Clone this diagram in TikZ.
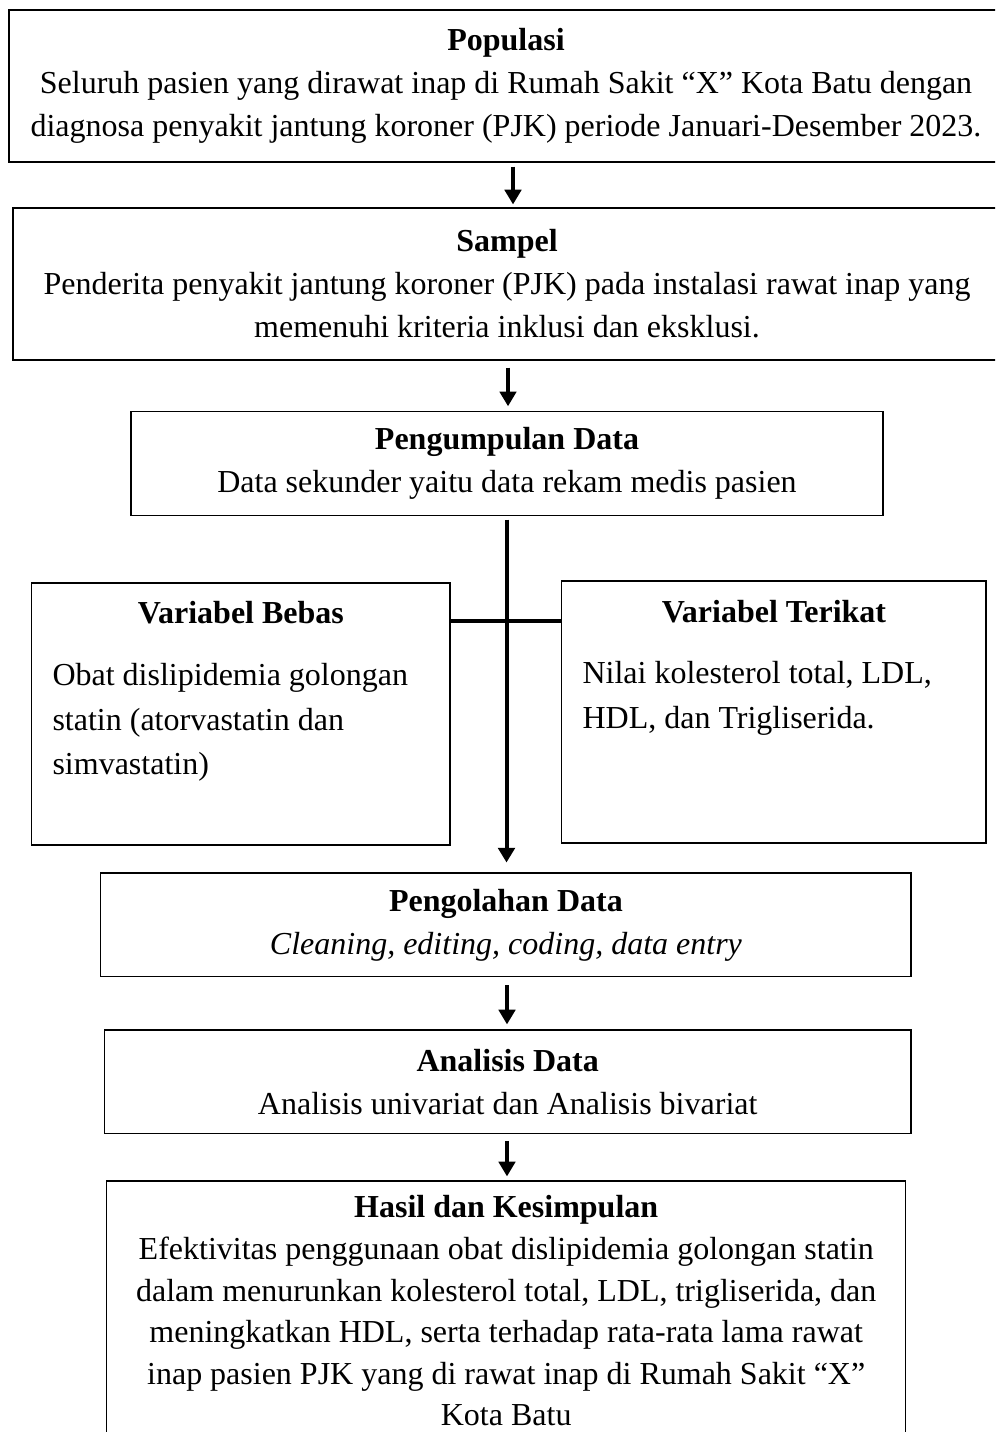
\documentclass[tikz,border=0pt]{standalone}
\usepackage{fontspec}
\setmainfont{Liberation Serif}
\usetikzlibrary{arrows.meta}
\begin{document}
\begin{tikzpicture}[x=0.375pt,y=-0.375pt,
  box/.style={draw=black,line width=0.5pt,rectangle,inner sep=0pt,align=center,font=\fontsize{12}{16.1}\selectfont},
  box6/.style={box,font=\fontsize{12}{15.6}\selectfont},
  sidebox/.style={draw=black,line width=0.5pt,rectangle,inner sep=0pt},
  sidetitle/.style={inner sep=0pt,font=\fontsize{12}{16.1}\selectfont\bfseries},
  sidebody/.style={inner sep=0pt,align=left,font=\fontsize{12}{16.6}\selectfont},
  arr/.style={line width=1.2pt,-{Triangle[width=6.2pt,length=5.5pt]}},
  arrlong/.style={line width=1.5pt,-{Triangle[width=6.2pt,length=5.5pt]}},
  bar/.style={line width=1.8pt}]
\useasboundingbox (0,0) rectangle (995,1432);
\clip (0,0) rectangle (995,1432);

\node[box,minimum width=372.75pt,minimum height=57pt] (pop) at (506,86)
  {\textbf{Populasi}\\Seluruh pasien yang dirawat inap di Rumah Sakit “X” Kota Batu dengan\\diagnosa penyakit jantung koroner (PJK) periode Januari-Desember 2023.};
\node[box,minimum width=370.5pt,minimum height=57pt] (sampel) at (507,284)
  {\textbf{Sampel}\\Penderita penyakit jantung koroner (PJK) pada instalasi rawat inap yang\\memenuhi kriteria inklusi dan eksklusi.};
\node[box,minimum width=282.1pt,minimum height=39pt] (kumpul) at (507,463.7)
  {\textbf{Pengumpulan Data}\\Data sekunder yaitu data rekam medis pasien};

\node[sidebox,minimum width=156.9pt,minimum height=98.25pt] (bebas) at (240.9,714) {};
\node[sidetitle] (bebasT) at (240.9,613) {Variabel Bebas};
\node[sidebody,anchor=north west] (bebasB) at (52,663)
  {Obat dislipidemia golongan\\statin (atorvastatin dan\\simvastatin)};

\node[sidebox,minimum width=159.1pt,minimum height=98.25pt] (terikat) at (773.9,712) {};
\node[sidetitle] (terikatT) at (773.9,612) {Variabel Terikat};
\node[sidebody,anchor=north west] (terikatB) at (582,661)
  {Nilai kolesterol total, LDL,\\HDL, dan Trigliserida.};

\node[box,minimum width=303.9pt,minimum height=38.9pt] (olah) at (505.9,924.9)
  {\textbf{Pengolahan Data}\\\textit{Cleaning, editing, coding, data entry}};
\node[box,minimum width=302.5pt,minimum height=38.7pt] (analisis) at (507.7,1081.7)
  {\textbf{Analisis Data}\\Analisis univariat dan Analisis bivariat};
\node[box6,minimum width=299.6pt,minimum height=97.5pt] (hasil) at (506.2,1311)
  {\textbf{Hasil dan Kesimpulan}\\Efektivitas penggunaan obat dislipidemia golongan statin\\dalam menurunkan kolesterol total, LDL, trigliserida, dan\\meningkatkan HDL, serta terhadap rata-rata lama rawat\\inap pasien PJK yang di rawat inap di Rumah Sakit “X”\\Kota Batu};

\coordinate (a1) at (513,0);
\coordinate (a2) at (508,0);
\coordinate (a3) at (506.5,0);
\coordinate (a4) at (507,0);
\coordinate (hb) at (0,621);

\draw[arr,shorten <=1.5pt,shorten >=1.1pt] (pop.south -| a1) -- (sampel.north -| a1);
\draw[arr,shorten <=2.6pt,shorten >=1.8pt] (sampel.south -| a2) -- (kumpul.north -| a2);
\draw[arrlong,shorten <=1.2pt,shorten >=3.7pt] (kumpul.south -| a3) -- (olah.north -| a3);
\draw[bar] (bebas.east |- hb) -- (terikat.west |- hb);
\draw[arr,shorten <=3pt,shorten >=1.9pt] (olah.south -| a4) -- (analisis.north -| a4);
\draw[arr,shorten <=2.6pt,shorten >=1.5pt] (analisis.south -| a4) -- (hasil.north -| a4);
\end{tikzpicture}
\end{document}
